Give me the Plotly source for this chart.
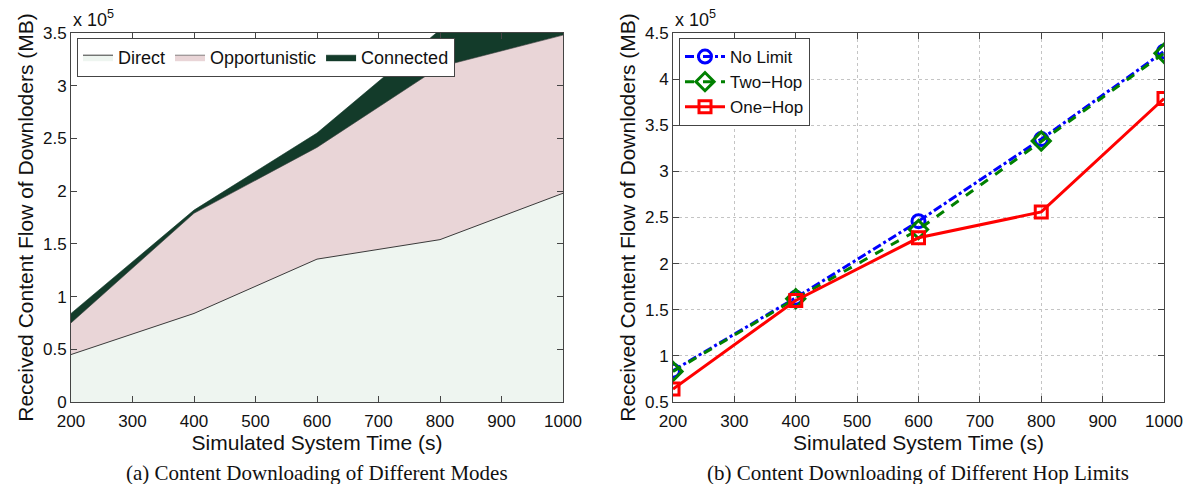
import plotly.graph_objects as go

# ---- data (values in units of 1e5 MB) ----
time_s = [200, 400, 600, 800, 1000]

# (a) stacked components
direct = [0.45, 0.84, 1.355, 1.54, 1.98]
opportunistic = [0.30, 0.95, 1.06, 1.64, 1.50]
connected = [0.09, 0.03, 0.136, 0.35, 0.42]

# (b) hop limits
no_limit = [0.84, 1.63, 2.46, 3.35, 4.30]
two_hop = [0.83, 1.62, 2.37, 3.33, 4.28]
one_hop = [0.64, 1.60, 2.28, 2.56, 3.79]

x_ticks = [200, 300, 400, 500, 600, 700, 800, 900, 1000]
ya_ticks = [0, 0.5, 1, 1.5, 2, 2.5, 3, 3.5]
yb_ticks = [0.5, 1, 1.5, 2, 2.5, 3, 3.5, 4, 4.5]

W, H = 1192, 484
SANS = "Liberation Sans, Arial, Helvetica, sans-serif"
SERIF = "Liberation Serif, Times New Roman, serif"

def px(xp):
    return xp / W

def py(yp):
    return 1 - yp / H

fig = go.Figure()

# ---- (a) stacked areas ----
fig.add_trace(go.Scatter(x=time_s, y=direct, name="Direct", stackgroup="a",
                         mode="lines", line=dict(color="#3a3a3a", width=1),
                         fillcolor="#eef5f0", xaxis="x", yaxis="y", legend="legend"))
fig.add_trace(go.Scatter(x=time_s, y=opportunistic, name="Opportunistic", stackgroup="a",
                         mode="lines", line=dict(color="#3a3a3a", width=0.6),
                         fillcolor="#e9d5d7", xaxis="x", yaxis="y", legend="legend"))
fig.add_trace(go.Scatter(x=time_s, y=connected, name="Connected", stackgroup="a",
                         mode="lines", line=dict(color="#12392a", width=0.6),
                         fillcolor="#133b2a", xaxis="x", yaxis="y", legend="legend"))

# ---- (b) lines ----
fig.add_trace(go.Scatter(x=time_s, y=no_limit, name="No Limit", mode="lines+markers",
                         line=dict(color="#0000ff", width=3, dash="dashdot"),
                         marker=dict(symbol="circle-open", size=13, color="#0000ff",
                                     line=dict(width=3, color="#0000ff")),
                         xaxis="x2", yaxis="y2", legend="legend2"))
fig.add_trace(go.Scatter(x=time_s, y=two_hop, name="Two\u2212Hop", mode="lines+markers",
                         line=dict(color="#008000", width=3, dash="dash"),
                         marker=dict(symbol="diamond-open", size=14, color="#008000",
                                     line=dict(width=3, color="#008000")),
                         xaxis="x2", yaxis="y2", legend="legend2"))
fig.add_trace(go.Scatter(x=time_s, y=one_hop, name="One\u2212Hop", mode="lines+markers",
                         line=dict(color="#ff0000", width=3),
                         marker=dict(symbol="square-open", size=12, color="#ff0000",
                                     line=dict(width=3, color="#ff0000")),
                         xaxis="x2", yaxis="y2", legend="legend2"))

axis_common = dict(showline=True, linecolor="#444", linewidth=1, mirror="allticks",
                   ticks="inside", ticklen=6, tickcolor="#444", zeroline=False,
                   automargin=False,
                   tickfont=dict(family=SANS, size=17, color="#111"))

ytitle = "Received Content Flow of Downloders (MB)"
xtitle = "Simulated System Time (s)"
TFONT = dict(size=21, family=SANS, color="#111")

fig.update_layout(
    width=W, height=H,
    margin=dict(l=0, r=0, t=0, b=0),
    paper_bgcolor="white", plot_bgcolor="white",
    font=dict(family=SANS, color="#111"),
    xaxis=dict(domain=[px(71), px(563)], range=[200, 1000], tickvals=x_ticks,
               showgrid=False, anchor="y", ticklabelstandoff=4,
               title=dict(text=xtitle, font=TFONT, standoff=4),
               **axis_common),
    yaxis=dict(domain=[py(402), py(33)], range=[0, 3.5], tickvals=ya_ticks,
               showgrid=False, anchor="x",
               title=dict(text=ytitle, font=TFONT, standoff=3),
               **axis_common),
    xaxis2=dict(domain=[px(673), px(1164)], range=[200, 1000], tickvals=x_ticks,
                showgrid=True, gridcolor="#c4c4c4", griddash="dot", gridwidth=1,
                anchor="y2", ticklabelstandoff=4,
                title=dict(text=xtitle, font=TFONT, standoff=4),
                **axis_common),
    yaxis2=dict(domain=[py(402), py(33)], range=[0.5, 4.5], tickvals=yb_ticks,
                showgrid=True, gridcolor="#c4c4c4", griddash="dot", gridwidth=1,
                anchor="x2",
                title=dict(text=ytitle, font=TFONT, standoff=3),
                **axis_common),
    legend=dict(x=px(77), y=py(38), xanchor="left", yanchor="top",
                orientation="h", bgcolor="white", bordercolor="#444", borderwidth=1,
                font=dict(family=SANS, size=18, color="#111"), traceorder="normal",
                itemwidth=30, tracegroupgap=0),
    legend2=dict(x=px(679), y=py(38), xanchor="left", yanchor="top",
                 orientation="v", bgcolor="white", bordercolor="#444", borderwidth=1,
                 font=dict(family=SANS, size=17, color="#111"), traceorder="normal",
                 itemwidth=40, tracegroupgap=0),
    showlegend=True,
    annotations=[
        dict(text="x 10<sup>5</sup>", x=px(71), y=py(32), xref="paper", yref="paper",
             xanchor="left", yanchor="bottom", showarrow=False,
             font=dict(family=SANS, size=18, color="#111")),
        dict(text="x 10<sup>5</sup>", x=px(673), y=py(32), xref="paper", yref="paper",
             xanchor="left", yanchor="bottom", showarrow=False,
             font=dict(family=SANS, size=18, color="#111")),
        dict(text="(a) Content Downloading of Different Modes", x=px(317), y=py(473),
             xref="paper", yref="paper", xanchor="center", yanchor="middle",
             showarrow=False, font=dict(family=SERIF, size=21, color="#111")),
        dict(text="(b) Content Downloading of Different Hop Limits", x=px(918), y=py(473),
             xref="paper", yref="paper", xanchor="center", yanchor="middle",
             showarrow=False, font=dict(family=SERIF, size=21, color="#111")),
    ],
)

fig.write_html("out.html", config={"displayModeBar": False},
               post_script="document.body.style.margin='0';document.body.style.overflow='hidden';")
